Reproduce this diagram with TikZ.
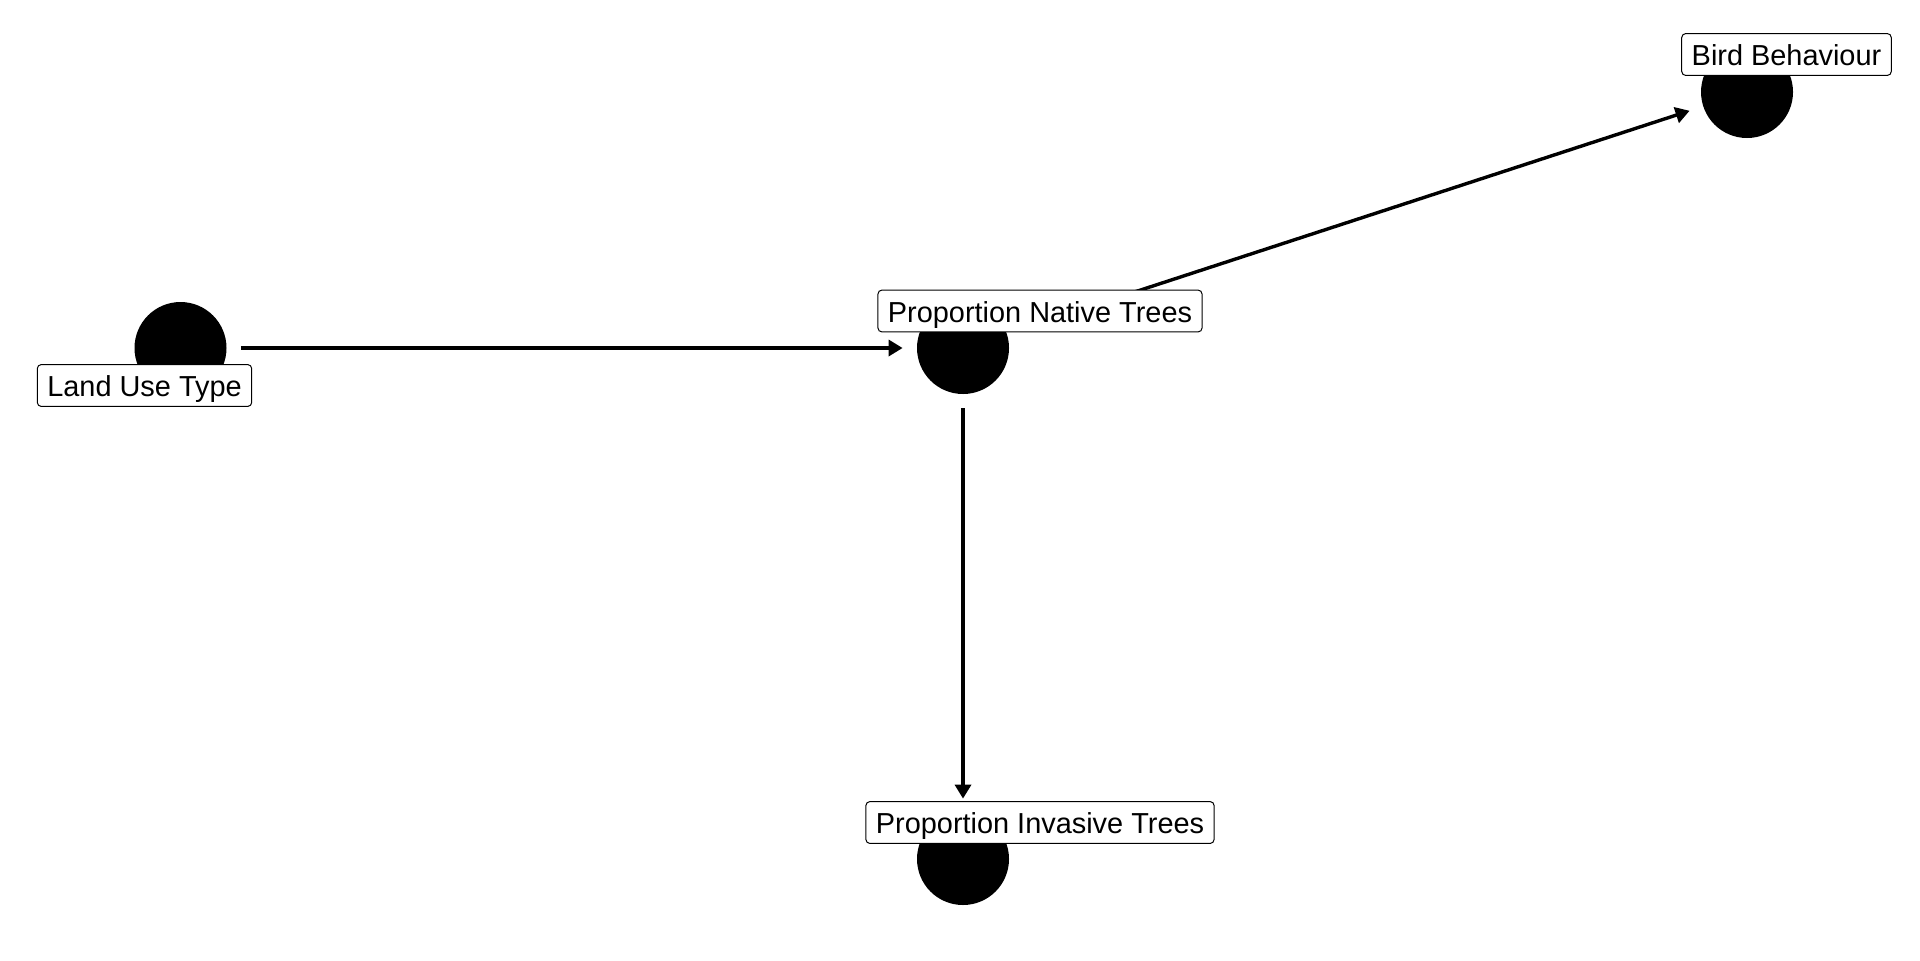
\documentclass[tikz,border=0pt]{standalone}
\usepackage{fontspec}
\setmainfont{Liberation Sans}
\usetikzlibrary{arrows.meta}
\tikzset{
  dot/.style={circle,fill=black,draw=none,minimum size=46pt,inner sep=0pt},
  lbl/.style={draw=black,line width=0.5pt,fill=white,rounded corners=2pt,
    font=\fontsize{14.45}{17}\selectfont,text height=11.35pt,text depth=0pt,
    inner xsep=5pt,inner ysep=4.8pt},
  link/.style={line width=1.7pt,shorten <=7pt,shorten >=7pt,
    -{Triangle[length=7pt,width=8pt]}}
}
\begin{document}
\begin{tikzpicture}[x=0.5pt,y=-0.5pt]
\useasboundingbox[fill=white] (0,0) rectangle (1920,960);
\node[dot] (lu) at (180.5,348) {};
\node[dot] (nt) at (963,348) {};
\node[dot] (bb) at (1747,92) {};
\node[dot] (it) at (963,859) {};
\draw[link] (lu) -- (nt);
\draw[link] (nt) -- (bb);
\draw[link] (nt) -- (it);
\node[lbl] (lul) at (144.5,385.5) {Land Use Type};
\node[lbl] (ntl) at (1040,311) {Proportion Native Trees};
\node[lbl] (bbl) at (1786.5,54.5) {Bird Behaviour};
\node[lbl] (itl) at (1040,822.5) {Proportion Invasive Trees};
\end{tikzpicture}
\end{document}
